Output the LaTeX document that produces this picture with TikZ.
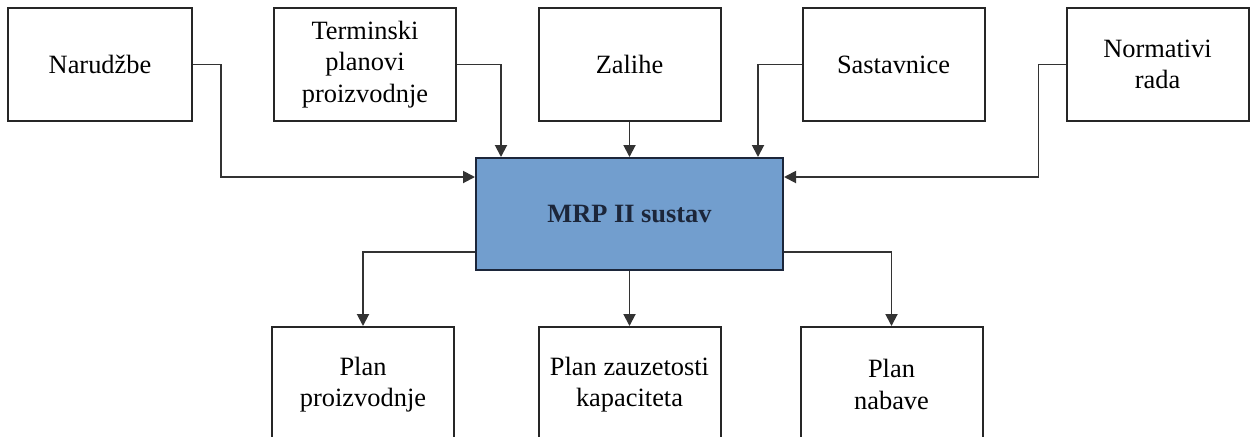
\documentclass[tikz,border=0pt]{standalone}
\usepackage{fontspec}
\setmainfont{Liberation Serif}
\usetikzlibrary{arrows.meta,calc}
\definecolor{mrpblue}{RGB}{114,158,206}
\definecolor{mrpline}{RGB}{28,38,58}
\begin{document}
\begin{tikzpicture}[x=0.5pt,y=-0.5pt,>={Triangle[length=6pt,width=6pt]},
	font=\fontsize{13.2}{15.6}\selectfont, line join=miter,
	box/.style={draw=black!85,line width=1pt,minimum width=91pt,minimum height=56.5pt,align=center,inner sep=0pt},
	link/.style={->,draw=black!80,line width=0.95pt}]
	\useasboundingbox (0,0) rectangle (1252,436);
	% ulazi
	\node[box,minimum width=92pt] (narudzbe) at (100,64.5) {Narud\v{z}be};
	\node[box] (terminski) at (365,64.5) {Terminski\\planovi\\proizvodnje};
	\node[box] (zalihe) at (629.5,64.5) {Zalihe};
	\node[box] (sastavnice) at (893.5,64.5) {Sastavnice};
	\node[box] (normativi) at (1157.5,64.5) {Normativi\\rada};
	% sustav
	\node[box,draw=mrpline,fill=mrpblue,text=mrpline,minimum width=153.5pt,minimum height=56pt,font=\fontsize{13.2}{15.6}\selectfont\bfseries] (mrp) at (629.5,214) {MRP II sustav};
	% izlazi
	\node[box,minimum height=57.5pt] (pproizvodnje) at (363,384.5) {Plan\\proizvodnje};
	\node[box,minimum height=57.5pt] (pkapaciteta) at (629.5,384.5) {Plan zauzetosti\\kapaciteta};
	\node[box,minimum height=57.5pt] (pnabave) at (891.5,384.5) {Plan\\nabave};
	\draw[link] (narudzbe.east) -- ++(28,0) |- ($(mrp.west)+(0,-37)$);
	\draw[link] (terminski.east) -| ($(mrp.north west)+(26,0)$);
	\draw[link] (zalihe.south) -- (mrp.north);
	\draw[link] (sastavnice.west) -| ($(mrp.north east)+(-26,0)$);
	\draw[link] (normativi.west) -- ++(-27,0) |- ($(mrp.east)+(0,-37)$);
	\draw[link] ($(mrp.west)+(0,38)$) -| (pproizvodnje.north);
	\draw[link] (mrp.south) -- (pkapaciteta.north);
	\draw[link] ($(mrp.east)+(0,38)$) -| (pnabave.north);
\end{tikzpicture}
\end{document}
